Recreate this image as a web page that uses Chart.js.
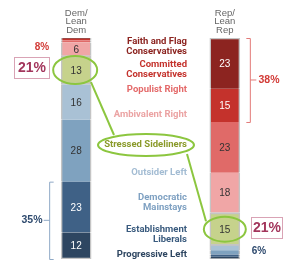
<!DOCTYPE html>
<html><head><meta charset="utf-8">
<script src="https://cdn.jsdelivr.net/npm/chart.js@4"></script>
<style>html,body{margin:0;padding:0;background:#fff;}canvas{display:block;}</style>
</head><body>
<canvas id="c" width="290" height="268"></canvas>
<script>
// ---- data ----
const categories = ['Dem/Lean Dem', '', 'Rep/Lean Rep'];
const typologyGroups = ['Progressive Left','Establishment Liberals','Democratic Mainstays','Outsider Left','Stressed Sideliners','Ambivalent Right','Populist Right','Committed Conservatives','Faith and Flag Conservatives'];
const demValues = [12, 23, 28, 16, 13, 6, 1, 0.5, 0.5];
const repValues = [1, 1, 2, 2, 15, 18, 23, 15, 23];
const stressedShare = '21%';
const headerLines = [['Dem/','Lean','Dem'], ['Rep/','Lean','Rep']];
const groupLabelLines = [['Progressive Left'],['Establishment','Liberals'],['Democratic','Mainstays'],['Outsider Left'],['Stressed Sideliners'],['Ambivalent Right'],['Populist Right'],['Committed','Conservatives'],['Faith and Flag','Conservatives']];

// ---- styles ----
const fills = ['#2e4661','#3f6186','#7fa2bf','#a9c1d5','#c6d28c','#f0a6a6','#e06a68','#c4322c','#8c2420'];
const labelColors = ['#2e4661','#3a5b7e','#7fa1c2','#a3bcd3','#8a9a2a','#eba3a3','#e46a6a','#c4322c','#8c2420'];
const numberColors = ['#ffffff','#ffffff','#333333','#333333','#333333','#333333','#333333','#ffffff','#ffffff'];
const labelY = [255, 230, 198, 173, 145, 115, 90, 65, 42];
const green = '#8cc63f';

const datasets = typologyGroups.map((g, i) => {
  const bw = {left: 1.5, right: 1.5, top: 0, bottom: 0};
  if (i === 0) bw.bottom = 1.5;
  if (i === typologyGroups.length - 1) bw.top = 1.5;
  if (i === 4) { bw.top = 2; bw.bottom = 2; }
  return {
    label: g,
    data: [demValues[i], null, repValues[i]],
    backgroundColor: fills[i],
    borderColor: '#c4c4c4',
    borderWidth: bw,
    borderSkipped: false,
    barThickness: 30
  };
});

const sum = (arr, idx) => idx.reduce((s, k) => s + arr[k], 0);

const annot = {
  id: 'annot',
  afterDatasetsDraw(chart) {
    const ctx = chart.ctx, xs = chart.scales.x, ys = chart.scales.y;
    ctx.save();
    // numbers in segments
    ctx.textAlign = 'center'; ctx.textBaseline = 'middle';
    ctx.font = '10px "Liberation Sans", Arial, sans-serif';
    chart.data.datasets.forEach((ds, i) => {
      chart.getDatasetMeta(i).data.forEach((bar, j) => {
        const v = ds.data[j];
        if (v != null && v >= 5) {
          ctx.fillStyle = numberColors[i];
          ctx.fillText(String(v), bar.x, (bar.y + bar.base) / 2 + 1);
        }
      });
    });
    const xl = xs.getPixelForValue(0), xr = xs.getPixelForValue(2);
    const half = 15;
    // headers
    ctx.fillStyle = '#666'; ctx.font = '9.5px "Liberation Sans", Arial, sans-serif';
    headerLines.forEach((lines, k) => {
      const cx = k === 0 ? xl : xr;
      lines.forEach((t, n) => ctx.fillText(t, cx, 13 + n * 8.5));
    });
    // middle labels
    ctx.textAlign = 'right';
    ctx.font = 'bold 9.5px Roboto, "Liberation Sans", sans-serif';
    groupLabelLines.forEach((lines, i) => {
      ctx.fillStyle = labelColors[i];
      lines.forEach((t, n) => ctx.fillText(t, 187, labelY[i] + n * 9.5));
    });
    // stressed ellipses and connectors
    const sIdx = 4;
    const demBelow = sum(demValues, [0,1,2,3]);
    const repBelow = sum(repValues, [0,1,2,3]);
    const lcY = ys.getPixelForValue(demBelow + demValues[sIdx] / 2);
    const rcY = ys.getPixelForValue(repBelow + repValues[sIdx] / 2);
    ctx.strokeStyle = green; ctx.lineWidth = 2;
    ctx.beginPath(); ctx.ellipse(xl - 1, lcY, 22, 14, 0, 0, Math.PI * 2); ctx.stroke();
    ctx.beginPath(); ctx.ellipse(146, 145, 48, 11, 0, 0, Math.PI * 2); ctx.stroke();
    ctx.beginPath(); ctx.ellipse(xr, rcY, 21, 12.5, 0, 0, Math.PI * 2); ctx.stroke();
    ctx.beginPath(); ctx.moveTo(91, lcY + 12); ctx.lineTo(114, 135); ctx.stroke();
    ctx.beginPath(); ctx.moveTo(187, 154); ctx.lineTo(206, rcY - 8); ctx.stroke();
    // 21% boxes
    ctx.lineWidth = 1; ctx.strokeStyle = '#d9a3b5';
    ctx.strokeRect(14.5, 57.5, 35, 21);
    ctx.strokeRect(251.5, 217.5, 31, 21);
    ctx.fillStyle = '#a3365c'; ctx.textAlign = 'center';
    ctx.font = 'bold 14px "Liberation Sans", Arial, sans-serif';
    ctx.fillText(stressedShare, 32, 68.5);
    ctx.fillText(stressedShare, 267, 228.5);
    // 8% and 6%
    ctx.font = 'bold 10px "Liberation Sans", Arial, sans-serif';
    ctx.fillStyle = '#d23a36';
    ctx.fillText(sum(demValues, [5,6,7,8]) + '%', 42, 47);
    ctx.fillStyle = '#2e4a6e';
    ctx.fillText(sum(repValues, [0,1,2,3]) + '%', 259, 251);
    // 35% bracket (left)
    const b0 = ys.getPixelForValue(0), b1 = ys.getPixelForValue(sum(demValues, [0,1]));
    const bx = xl - half - 11.5;
    ctx.strokeStyle = '#8fa9c6'; ctx.lineWidth = 1;
    ctx.beginPath();
    ctx.moveTo(bx + 4, b1 + 0.5); ctx.lineTo(bx, b1 + 0.5); ctx.lineTo(bx, b0 + 0.5); ctx.lineTo(bx + 4, b0 + 0.5);
    ctx.moveTo(bx, (b0 + b1) / 2); ctx.lineTo(bx - 6, (b0 + b1) / 2);
    ctx.stroke();
    ctx.fillStyle = '#2e4a6e'; ctx.font = 'bold 10.5px "Liberation Sans", Arial, sans-serif';
    ctx.fillText(sum(demValues, [0,1]) + '%', 32, (b0 + b1) / 2);
    // 38% bracket (right)
    const total = repValues.reduce((a, b) => a + b, 0);
    const r0 = ys.getPixelForValue(total), r1 = ys.getPixelForValue(total - sum(repValues, [7,8]));
    const rx = xr + half + 10.5;
    ctx.strokeStyle = '#e27a78';
    ctx.beginPath();
    ctx.moveTo(rx - 4, r0 + 0.5); ctx.lineTo(rx, r0 + 0.5); ctx.lineTo(rx, r1 + 0.5); ctx.lineTo(rx - 4, r1 + 0.5);
    ctx.moveTo(rx, (r0 + r1) / 2); ctx.lineTo(rx + 6, (r0 + r1) / 2);
    ctx.stroke();
    ctx.fillStyle = '#d23a36';
    ctx.fillText(sum(repValues, [7,8]) + '%', 269, (r0 + r1) / 2);
    ctx.restore();
  }
};

new Chart(document.getElementById('c'), {
  type: 'bar',
  data: { labels: categories, datasets },
  options: {
    responsive: false, animation: false, devicePixelRatio: 1,
    layout: { padding: { top: 38, bottom: 9, left: 39, right: 28 } },
    plugins: { legend: { display: false }, tooltip: { enabled: false } },
    scales: {
      x: { stacked: true, display: false },
      y: { stacked: true, display: false, min: 0, max: 100 }
    }
  },
  plugins: [annot]
});
</script>
</body></html>
